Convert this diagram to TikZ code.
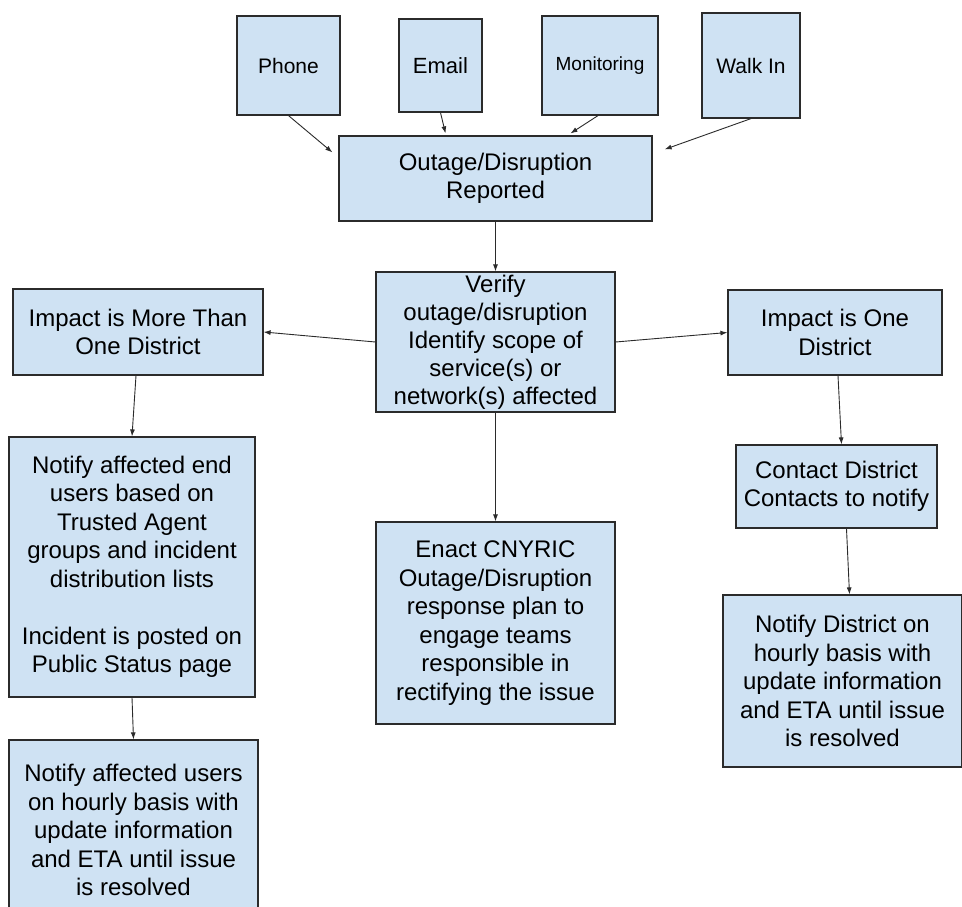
\documentclass[tikz,border=0pt]{standalone}
\usepackage{fontspec}
\setmainfont{Liberation Sans}
\usetikzlibrary{arrows.meta}
\definecolor{boxblue}{HTML}{CFE2F3}
\definecolor{edge}{HTML}{2B2B2B}
\begin{document}
\begin{tikzpicture}[x=1pt, y=-1pt,
    box/.style={draw=edge, line width=1.2pt, fill=boxblue, align=center, inner sep=0pt,
      font=\fontsize{24}{28.5}\selectfont},
    src/.style={box, font=\fontsize{21}{25}\selectfont},
    arr/.style={-{Latex[length=7pt,width=5pt]}, line width=0.9pt, draw=edge}]
  \clip (0,0) rectangle (962,907);
  \fill[white] (0,0) rectangle (962,907);
  % sources
  \node[src, minimum width=103pt, minimum height=99pt] (phone) at (288.5,65.5) {Phone};
  \node[src, minimum width=83pt, minimum height=93pt, font=\fontsize{22}{25}\selectfont] (email) at (440.5,65.5) {Email};
  \node[src, minimum width=116pt, minimum height=99pt, font=\fontsize{19}{22}\selectfont] (monitoring) at (600,65.5) {Monitoring};
  \node[src, minimum width=98pt, minimum height=105pt] (walkin) at (751,65.5) {Walk In};
  \node[box, minimum width=313pt, minimum height=85pt] (reported) at (495.5,178.5) {Outage/Disruption\\Reported};
  \node[box, minimum width=239pt, minimum height=140pt, font=\fontsize{24}{28}\selectfont] (verify) at (495.5,342) {Verify\\outage/disruption\\Identify scope of\\service(s) or\\network(s) affected};
  % left branch
  \node[box, minimum width=250pt, minimum height=86pt] (impactmany) at (138,332) {Impact is More Than\\One District};
  \node[box, minimum width=246pt, minimum height=260pt] (notifyusers) at (132,567) {Notify affected end\\users based on\\Trusted Agent\\groups and incident\\distribution lists\\[28.5pt]Incident is posted on\\Public Status page};
  \node[box, minimum width=249pt, minimum height=180pt] (hourlyusers) at (133.5,830) {Notify affected users\\on hourly basis with\\update information\\and ETA until issue\\is resolved};
  % middle
  \node[box, minimum width=239pt, minimum height=202pt] (enact) at (495.5,623) {Enact CNYRIC\\Outage/Disruption\\response plan to\\engage teams\\responsible in\\rectifying the issue};
  % right branch
  \node[box, minimum width=214pt, minimum height=85pt] (impactone) at (835,332.5) {Impact is One\\District};
  \node[box, minimum width=201pt, minimum height=83pt] (contact) at (836.5,486.5) {Contact District\\Contacts to notify};
  \node[box, minimum width=239pt, minimum height=172pt] (hourlydistrict) at (842.5,681) {Notify District on\\hourly basis with\\update information\\and ETA until issue\\is resolved};
  % arrows
  \draw[arr] (phone.south) -- ([xshift=-6pt,yshift=-17pt]reported.north west);
  \draw[arr] (email.south) -- ([xshift=-50pt,yshift=2pt]reported.north);
  \draw[arr] ([xshift=-2pt]monitoring.south) -- ([xshift=75pt,yshift=2pt]reported.north);
  \draw[arr] (walkin.south) -- ([xshift=12pt,yshift=-14pt]reported.north east);
  \draw[arr] (reported.south) -- (verify.north);
  \draw[arr] (verify.west) -- (impactmany.east);
  \draw[arr] (verify.east) -- (impactone.west);
  \draw[arr] ([xshift=-2pt]impactmany.south) -- (notifyusers.north);
  \draw[arr] (notifyusers.south) -- (hourlyusers.north);
  \draw[arr] (verify.south) -- (enact.north);
  \draw[arr] ([xshift=3pt]impactone.south) -- ([xshift=5pt]contact.north);
  \draw[arr] ([xshift=10pt]contact.south) -- ([xshift=7pt]hourlydistrict.north);
\end{tikzpicture}
\end{document}
